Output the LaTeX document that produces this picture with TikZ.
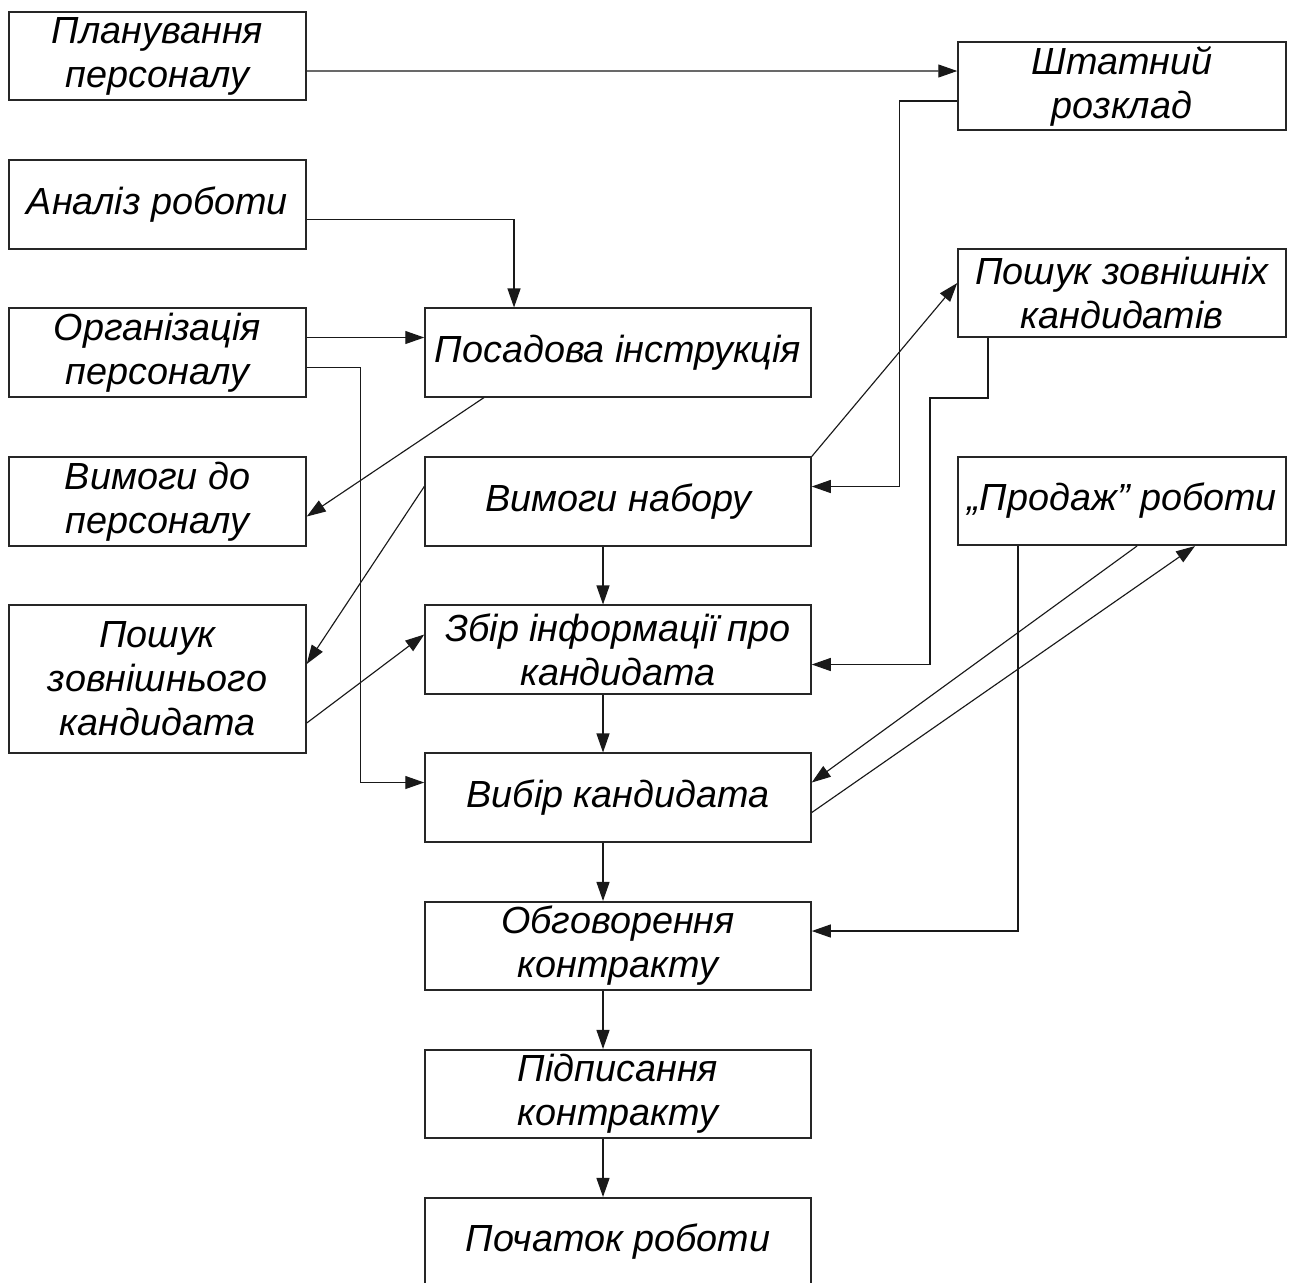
\documentclass[tikz,border=0pt]{standalone}
\usepackage{fontspec}
\setmainfont{Liberation Sans}
\usetikzlibrary{arrows.meta,calc}

\tikzset{
stage/.style={draw=black!85, line width=0.9pt, fill=white, inner sep=0pt,
  minimum height=1.77cm, align=center,
  font=\fontsize{21.5}{25}\selectfont\itshape},
leftbox/.style={stage, minimum width=5.94cm},
midbox/.style={stage, minimum width=7.72cm},
rightbox/.style={stage, minimum width=6.56cm},
link/.style={line width=0.65pt, draw=black!90,
  -{Triangle[length=3.8mm,width=2.6mm]}}
}

\begin{document}
\begin{tikzpicture}[x=0.02cm,y=-0.02cm]
\useasboundingbox (0,0) rectangle (1291,1282);
% left column
\node[leftbox] (plan)   at (157.5,56)    {Планування\\персоналу};
\node[leftbox] (anal)   at (157.5,204.5) {Аналіз роботи};
\node[leftbox] (org)    at (157.5,352.5) {Організація\\персоналу};
\node[leftbox] (vymper) at (157.5,501.5) {Вимоги до\\персоналу};
\node[leftbox, minimum height=2.96cm] (poshuk) at (157.5,679)
  {Пошук\\зовнішнього\\кандидата};
% middle column
\node[midbox] (posad)  at (618,352.5)  {Посадова інструкція};
\node[midbox] (vymnab) at (618,501.5)  {Вимоги набору};
\node[midbox] (zbir)   at (618,649.5)  {Збір інформації про\\кандидата};
\node[midbox] (vybir)  at (618,797.5)  {Вибір кандидата};
\node[midbox] (obgov)  at (618,946)    {Обговорення\\контракту};
\node[midbox] (pidpys) at (618,1094)   {Підписання\\контракту};
\node[midbox] (pochat) at (618,1242)   {Початок роботи};
% right column
\node[rightbox] (shtat)   at (1122,86)  {Штатний\\розклад};
\node[rightbox] (poshuky) at (1122,293) {Пошук зовнішніх\\кандидатів};
\node[rightbox] (prodazh) at (1122,501) {„Продаж” роботи};

\draw[link] ([yshift=-0.3cm]plan.east) -- ([yshift=0.3cm]shtat.west);
\draw[link] ([yshift=-0.3cm]anal.east) -| ([xshift=-2.08cm]posad.north);
\draw[link] ([yshift=0.3cm]org.east) -- ([yshift=0.3cm]posad.west);
\draw[link] ([yshift=-0.3cm]org.east) -- ++(1.08cm,0) |- ([yshift=0.3cm]vybir.west);
\draw[link] ([xshift=-2.68cm]posad.south) -- ([yshift=-0.3cm]vymper.east);
\draw[link] ([yshift=0.3cm]vymnab.west) -- ([yshift=0.3cm]poshuk.east);
\draw[link] ([yshift=-0.88cm]poshuk.east) -- ([yshift=0.3cm]zbir.west);
\draw[link] (vymnab.north east) -- ([yshift=0.2cm]poshuky.west);
\draw[link] ([yshift=-0.3cm]shtat.west) -- ++(-1.16cm,0) |- ([yshift=0.3cm]vymnab.east);
\draw[link] ([xshift=-2.68cm]poshuky.south) -- ++(0,-1.2cm) -- ++(-1.16cm,0)
  |- ([yshift=-0.3cm]zbir.east);
\draw[link] ([xshift=0.3cm]prodazh.south) -- ([yshift=0.3cm]vybir.east);
\draw[link] ([yshift=-0.3cm]vybir.east) -- ([xshift=1.46cm]prodazh.south);
\draw[link] ([xshift=-2.08cm]prodazh.south) |- ([yshift=0.3cm]obgov.east);
\foreach \a/\b in {vymnab/zbir,zbir/vybir,vybir/obgov,obgov/pidpys,pidpys/pochat}
  \draw[link] ([xshift=-0.3cm]\a.south) -- ([xshift=-0.3cm]\b.north);
\end{tikzpicture}
\end{document}
